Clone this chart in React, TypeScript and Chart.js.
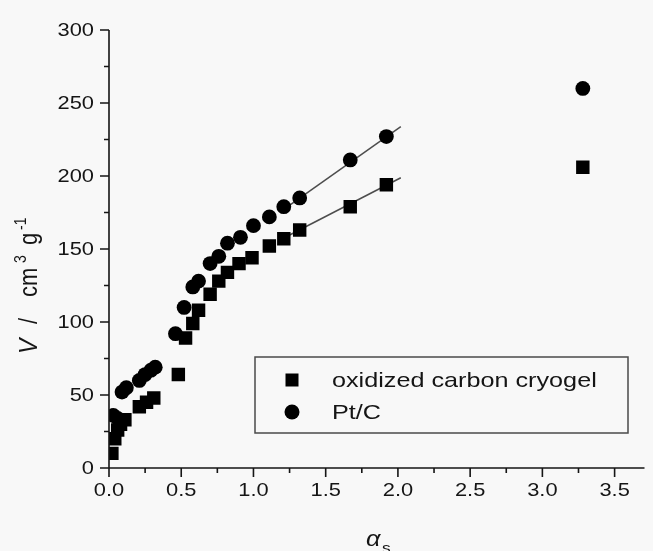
import { useEffect, useRef } from "react";
import { Chart, registerables } from "chart.js";

Chart.register(...registerables);

// alpha-s plot: adsorbed volume vs. reduced standard adsorption (alpha_s)
const cryogelAlpha = [0.02, 0.04, 0.06, 0.08, 0.11, 0.21, 0.26, 0.31, 0.48, 0.53, 0.58, 0.62, 0.70, 0.76, 0.82, 0.90, 0.99, 1.11, 1.21, 1.32, 1.67, 1.92, 3.28];
const cryogelV = [10, 20, 26, 30, 33, 42, 45, 48, 64, 89, 99, 108, 119, 128, 134, 140, 144, 152, 157, 163, 179, 194, 206];

const ptcAlpha = [0.03, 0.06, 0.09, 0.12, 0.21, 0.25, 0.29, 0.32, 0.46, 0.52, 0.58, 0.62, 0.70, 0.76, 0.82, 0.91, 1.0, 1.11, 1.21, 1.32, 1.67, 1.92, 3.28];
const ptcV = [36, 34, 52, 55, 60, 64, 67, 69, 92, 110, 124, 128, 140, 145, 154, 158, 166, 172, 179, 185, 211, 227, 260];

// linear fits over the high-alpha region
const cryogelFitAlpha = [1.2, 2.02];
const cryogelFitV = [157, 198.8];
const ptcFitAlpha = [1.2, 2.02];
const ptcFitV = [176.5, 233.8];

const xMajorTicks = [0, 0.5, 1.0, 1.5, 2.0, 2.5, 3.0, 3.5];
const xMinorTicks = [0.25, 0.75, 1.25, 1.75, 2.25, 2.75, 3.25];
const yMajorTicks = [0, 50, 100, 150, 200, 250, 300];
const yMinorTicks = [25, 75, 125, 175, 225, 275];

const seriesNames = ["oxidized carbon cryogel", "Pt/C"];

const FONT = '"Liberation Sans", Arial, Helvetica, sans-serif';
const SX = 1.15; // horizontal widening of all lettering
const INK = "#151515";

function toPoints(xs: number[], ys: number[]) {
  return xs.map((x, i) => ({ x, y: ys[i] }));
}

function wideText(
  ctx: CanvasRenderingContext2D,
  text: string,
  x: number,
  y: number,
  align: CanvasTextAlign,
  font: string,
  sx = SX
) {
  ctx.save();
  ctx.translate(x, y);
  ctx.scale(sx, 1);
  ctx.font = font;
  ctx.textAlign = align;
  ctx.fillText(text, 0, 0);
  ctx.restore();
}

const decorPlugin = {
  id: "decor",
  beforeDraw(chart: any) {
    const ctx: CanvasRenderingContext2D = chart.ctx;
    ctx.save();
    ctx.fillStyle = "#f8f8f8";
    ctx.fillRect(0, 0, chart.width, chart.height);
    ctx.restore();
  },
  afterDraw(chart: any) {
    const ctx: CanvasRenderingContext2D = chart.ctx;
    const xs = chart.scales.x;
    const ys = chart.scales.y;
    const area = chart.chartArea;
    const x0 = xs.getPixelForValue(0);
    const y0 = ys.getPixelForValue(0);

    ctx.save();
    ctx.strokeStyle = INK;
    ctx.lineWidth = 1.6;
    ctx.beginPath();
    // axis lines
    ctx.moveTo(x0, ys.getPixelForValue(300));
    ctx.lineTo(x0, y0);
    ctx.moveTo(x0, y0);
    ctx.lineTo(area.right + 1, y0);
    // tick marks
    for (const t of yMajorTicks) {
      const p = ys.getPixelForValue(t);
      ctx.moveTo(x0 - 9, p);
      ctx.lineTo(x0, p);
    }
    for (const t of yMinorTicks) {
      const p = ys.getPixelForValue(t);
      ctx.moveTo(x0 - 5, p);
      ctx.lineTo(x0, p);
    }
    for (const t of xMajorTicks) {
      const p = xs.getPixelForValue(t);
      ctx.moveTo(p, y0);
      ctx.lineTo(p, y0 + 9);
    }
    for (const t of xMinorTicks) {
      const p = xs.getPixelForValue(t);
      ctx.moveTo(p, y0);
      ctx.lineTo(p, y0 + 5);
    }
    ctx.stroke();

    // tick labels
    ctx.fillStyle = INK;
    ctx.textBaseline = "middle";
    const tickFont = `19px ${FONT}`;
    for (const t of yMajorTicks) {
      wideText(ctx, String(t), x0 - 15, ys.getPixelForValue(t) + 1, "right", tickFont);
    }
    for (const t of xMajorTicks) {
      wideText(ctx, t.toFixed(1), xs.getPixelForValue(t), y0 + 23, "center", tickFont);
    }

    // x title: alpha_s
    ctx.textBaseline = "alphabetic";
    const cx = (area.left + area.right) / 2;
    wideText(ctx, "\u03b1", cx - 3, 546, "center", `italic 22px ${FONT}`);
    wideText(ctx, "s", cx + 10, 553, "center", `15px ${FONT}`);

    // y title: V / cm^3 g^-1, rotated, pieces placed along the text line
    ctx.save();
    ctx.translate(37, 287);
    ctx.rotate(-Math.PI / 2);
    ctx.scale(1, SX);
    ctx.textAlign = "left";
    const main = `22px ${FONT}`;
    const parts: [string, string, number, number][] = [
      ["V", `italic 23px ${FONT}`, -67, 0],
      ["/", main, -37, 0],
      ["cm", main, -10, 0],
      ["3", `14px ${FONT}`, 24, -10],
      ["g", main, 42, 0],
      ["-1", `14px ${FONT}`, 57, -10],
    ];
    for (const [s, f, lx, dy] of parts) {
      ctx.font = f;
      ctx.fillText(s, lx, dy);
    }
    ctx.restore();

    // legend box
    ctx.strokeStyle = "#4a4a4a";
    ctx.lineWidth = 1.5;
    ctx.strokeRect(255, 357, 373, 76);
    ctx.fillStyle = "#000";
    ctx.fillRect(292 - 6.5, 380 - 6.5, 13, 13);
    ctx.beginPath();
    ctx.arc(292, 412, 7.5, 0, Math.PI * 2);
    ctx.fill();
    ctx.fillStyle = INK;
    ctx.textBaseline = "middle";
    const legFont = `21px ${FONT}`;
    wideText(ctx, seriesNames[0], 332, 381, "left", legFont, 1.2);
    wideText(ctx, seriesNames[1], 332, 413, "left", legFont, 1.2);

    ctx.restore();
  },
};

export default function App() {
  const canvasRef = useRef<HTMLCanvasElement | null>(null);

  useEffect(() => {
    document.body.style.margin = "0";
    const canvas = canvasRef.current;
    if (!canvas) return;
    const chart = new Chart(canvas, {
      type: "scatter",
      data: {
        datasets: [
          {
            label: seriesNames[0],
            data: toPoints(cryogelAlpha, cryogelV),
            pointStyle: "rect",
            pointRadius: 9.5,
            backgroundColor: "#000",
            borderColor: "#000",
            borderWidth: 0,
            order: 1,
          },
          {
            label: seriesNames[1],
            data: toPoints(ptcAlpha, ptcV),
            pointStyle: "circle",
            pointRadius: 7.4,
            backgroundColor: "#000",
            borderColor: "#000",
            borderWidth: 0,
            order: 1,
          },
          {
            label: "fit cryogel",
            data: toPoints(cryogelFitAlpha, cryogelFitV),
            showLine: true,
            pointRadius: 0,
            borderColor: "#4d4d4d",
            borderWidth: 1.5,
            order: 2,
          },
          {
            label: "fit Pt/C",
            data: toPoints(ptcFitAlpha, ptcFitV),
            showLine: true,
            pointRadius: 0,
            borderColor: "#4d4d4d",
            borderWidth: 1.5,
            order: 2,
          },
        ],
      },
      options: {
        responsive: false,
        animation: false,
        events: [],
        layout: { padding: { left: 109, top: 30, right: 1, bottom: 83 } },
        plugins: { legend: { display: false }, tooltip: { enabled: false } },
        scales: {
          x: { type: "linear", min: 0, max: 3.7, display: false },
          y: { type: "linear", min: 0, max: 300, display: false },
        },
      },
      plugins: [decorPlugin],
    });
    return () => chart.destroy();
  }, []);

  return <canvas ref={canvasRef} width={653} height={551} style={{ display: "block" }} />;
}
